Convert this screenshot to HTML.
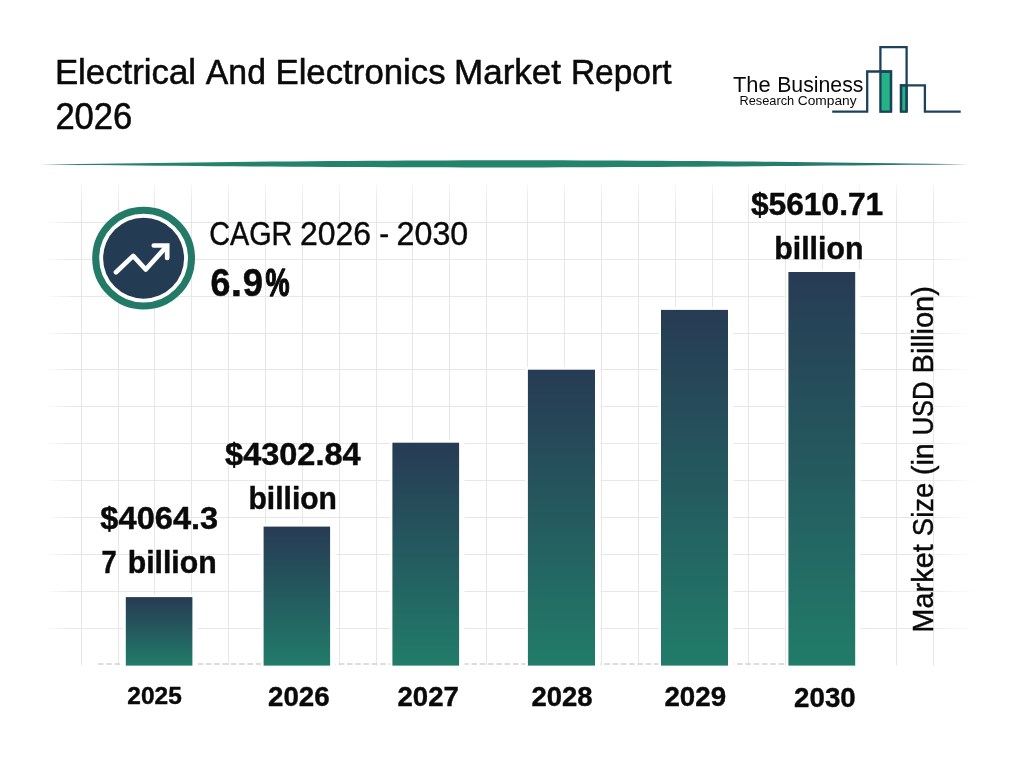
<!DOCTYPE html>
<html lang="en"><head><meta charset="utf-8"><title>Electrical And Electronics Market Report 2026</title>
<style>
html,body{margin:0;padding:0;background:#fff;}
body{width:1024px;height:768px;overflow:hidden;position:relative;font-family:"Liberation Sans",sans-serif;}
svg{position:absolute;left:0;top:0;display:block;}
text,tspan{font-family:"Liberation Sans",sans-serif;fill:#0a0a0a;stroke:#0a0a0a;stroke-width:0.45px;stroke-linejoin:round;}
.b{font-weight:700;}
.s0{stroke:none;}
.s4{stroke-width:0.4px;}
.s5{stroke-width:0.55px;}
.s12{stroke-width:1.3px;}
</style></head><body>
<svg width="1024" height="768" viewBox="0 0 1024 768">
<defs>
<linearGradient id="bar" x1="0" y1="0" x2="0" y2="1"><stop offset="0" stop-color="#273b54"/><stop offset="0.5" stop-color="#245a5f"/><stop offset="1" stop-color="#217c69"/></linearGradient>
<linearGradient id="div" x1="40" y1="0" x2="968" y2="0" gradientUnits="userSpaceOnUse"><stop offset="0" stop-color="#2f7f74"/><stop offset="0.25" stop-color="#23826b"/><stop offset="0.65" stop-color="#23846b"/><stop offset="1" stop-color="#2c6f74"/></linearGradient>
<linearGradient id="hfade" x1="44" y1="0" x2="975" y2="0" gradientUnits="userSpaceOnUse"><stop offset="0" stop-color="#e7e7e7" stop-opacity="0"/><stop offset="0.03" stop-color="#e7e7e7" stop-opacity="1"/><stop offset="0.95" stop-color="#e7e7e7" stop-opacity="1"/><stop offset="1" stop-color="#e7e7e7" stop-opacity="0"/></linearGradient>
<linearGradient id="vfade" x1="0" y1="184" x2="0" y2="666" gradientUnits="userSpaceOnUse"><stop offset="0" stop-color="#e7e7e7" stop-opacity="0.3"/><stop offset="0.04" stop-color="#e7e7e7" stop-opacity="1"/><stop offset="1" stop-color="#e7e7e7" stop-opacity="1"/></linearGradient>
</defs>
<g id="grid" fill="none" stroke-width="1">
<path d="M81.5 184V665.5" stroke="url(#vfade)"/>
<path d="M118.5 184V665.5" stroke="url(#vfade)"/>
<path d="M154.5 184V665.5" stroke="url(#vfade)"/>
<path d="M191.5 184V665.5" stroke="url(#vfade)"/>
<path d="M228.5 184V665.5" stroke="url(#vfade)"/>
<path d="M265.5 184V665.5" stroke="url(#vfade)"/>
<path d="M302.5 184V665.5" stroke="url(#vfade)"/>
<path d="M339.5 184V665.5" stroke="url(#vfade)"/>
<path d="M376.5 184V665.5" stroke="url(#vfade)"/>
<path d="M412.5 184V665.5" stroke="url(#vfade)"/>
<path d="M449.5 184V665.5" stroke="url(#vfade)"/>
<path d="M486.5 184V665.5" stroke="url(#vfade)"/>
<path d="M527.5 184V665.5" stroke="url(#vfade)"/>
<path d="M564.5 184V665.5" stroke="url(#vfade)"/>
<path d="M601.5 184V665.5" stroke="url(#vfade)"/>
<path d="M638.5 184V665.5" stroke="url(#vfade)"/>
<path d="M675.5 184V665.5" stroke="url(#vfade)"/>
<path d="M712.5 184V665.5" stroke="url(#vfade)"/>
<path d="M748.5 184V665.5" stroke="url(#vfade)"/>
<path d="M785.5 184V665.5" stroke="url(#vfade)"/>
<path d="M822.5 184V665.5" stroke="url(#vfade)"/>
<path d="M859.5 184V665.5" stroke="url(#vfade)"/>
<path d="M896.5 184V665.5" stroke="url(#vfade)"/>
<path d="M933.5 184V665.5" stroke="url(#vfade)"/>
<path d="M44 222.5H975" stroke="url(#hfade)"/>
<path d="M44 259.5H975" stroke="url(#hfade)"/>
<path d="M44 296.5H975" stroke="url(#hfade)"/>
<path d="M44 333.5H975" stroke="url(#hfade)"/>
<path d="M44 369.5H975" stroke="url(#hfade)"/>
<path d="M44 406.5H975" stroke="url(#hfade)"/>
<path d="M44 443.5H975" stroke="url(#hfade)"/>
<path d="M44 480.5H975" stroke="url(#hfade)"/>
<path d="M44 517.5H975" stroke="url(#hfade)"/>
<path d="M44 554.5H975" stroke="url(#hfade)"/>
<path d="M44 591.5H975" stroke="url(#hfade)"/>
<path d="M44 628.5H975" stroke="url(#hfade)"/>
</g>
<path d="M98 664H789" stroke="#d2d2d4" stroke-width="1.3" stroke-dasharray="5.5 2.8" fill="none"/>
<path d="M40.0 164.50 L59.3 164.21 L78.7 163.93 L98.0 163.65 L117.3 163.39 L136.7 163.13 L156.0 162.88 L175.3 162.64 L194.7 162.41 L214.0 162.19 L233.3 161.97 L252.7 161.77 L272.0 161.58 L291.3 161.40 L310.7 161.23 L330.0 161.07 L349.3 160.92 L368.7 160.79 L388.0 160.67 L407.3 160.56 L426.7 160.46 L446.0 160.38 L465.3 160.32 L484.7 160.27 L504.0 160.25 L523.3 160.26 L542.7 160.29 L562.0 160.35 L581.3 160.41 L600.7 160.50 L620.0 160.59 L639.3 160.70 L658.7 160.82 L678.0 160.96 L697.3 161.10 L716.7 161.26 L736.0 161.43 L755.3 161.61 L774.7 161.80 L794.0 162.00 L813.3 162.21 L832.7 162.43 L852.0 162.65 L871.3 162.89 L890.7 163.14 L910.0 163.39 L929.3 163.65 L948.7 163.92 L968.0 164.20 L968.0 164.20 L948.7 164.42 L929.3 164.64 L910.0 164.85 L890.7 165.06 L871.3 165.25 L852.0 165.44 L832.7 165.62 L813.3 165.79 L794.0 165.96 L774.7 166.12 L755.3 166.27 L736.0 166.41 L716.7 166.55 L697.3 166.68 L678.0 166.80 L658.7 166.91 L639.3 167.01 L620.0 167.11 L600.7 167.20 L581.3 167.27 L562.0 167.34 L542.7 167.39 L523.3 167.43 L504.0 167.45 L484.7 167.44 L465.3 167.41 L446.0 167.37 L426.7 167.32 L407.3 167.26 L388.0 167.18 L368.7 167.10 L349.3 167.01 L330.0 166.91 L310.7 166.80 L291.3 166.69 L272.0 166.56 L252.7 166.43 L233.3 166.29 L214.0 166.15 L194.7 165.99 L175.3 165.83 L156.0 165.66 L136.7 165.49 L117.3 165.31 L98.0 165.11 L78.7 164.92 L59.3 164.71 L40.0 164.50Z" fill="url(#div)"/>
<g id="bars">
<rect x="123.3" y="594.6" width="74.6" height="71.0" fill="#fff"/>
<rect x="261.1" y="524.1" width="74.5" height="141.5" fill="#fff"/>
<rect x="389.9" y="440.2" width="74.7" height="225.4" fill="#fff"/>
<rect x="525.4" y="367.2" width="75.1" height="298.4" fill="#fff"/>
<rect x="658.5" y="307.4" width="75.0" height="358.2" fill="#fff"/>
<rect x="785.9" y="269.5" width="74.8" height="396.1" fill="#fff"/>
<rect x="125.8" y="597.1" width="66.6" height="68.5" fill="url(#bar)"/>
<rect x="263.6" y="526.6" width="66.5" height="139.0" fill="url(#bar)"/>
<rect x="392.4" y="442.7" width="66.7" height="222.9" fill="url(#bar)"/>
<rect x="527.9" y="369.7" width="67.1" height="295.9" fill="url(#bar)"/>
<rect x="661.0" y="309.9" width="67.0" height="355.7" fill="url(#bar)"/>
<rect x="788.4" y="272.0" width="66.8" height="393.6" fill="url(#bar)"/>
</g>
<g id="icon">
<circle cx="143.6" cy="258.2" r="47.9" fill="#fff" stroke="#237b67" stroke-width="7"/>
<circle cx="143.6" cy="258.2" r="40.5" fill="#243b54"/>
<path d="M116 272.2L133.2 255.9L145.7 269.5L166.6 246.4" fill="none" stroke="#fff" stroke-width="4.7" stroke-linecap="round" stroke-linejoin="round"/>
<path d="M153.8 245.5H167.2V258" fill="none" stroke="#fff" stroke-width="4.7" stroke-linecap="round" stroke-linejoin="miter"/>
</g>
<g id="logo" fill="none" stroke="#1c4259" stroke-width="2.3" stroke-linejoin="miter">
<rect x="880.4" y="71.5" width="10.6" height="40.2" fill="#22b486"/>
<rect x="901.0" y="85.3" width="5.6" height="26.4" fill="#22b486"/>
<path d="M832.2 111.7H867.2V71.5H891V111.7"/>
<path d="M880.4 71.5V47.2H906.6V111.7"/>
<path d="M901.0 111.7V85.3H924.9V111.7H960.7"/>
</g>
<text><tspan id="t1a" class="s5" x="54.9" y="83.6" font-size="34.9" textLength="141.17" lengthAdjust="spacingAndGlyphs">Electrical</tspan> <tspan id="t1b" class="s5" x="205.84" y="83.6" font-size="34.9" textLength="60.1" lengthAdjust="spacingAndGlyphs">And</tspan> <tspan id="t1c" class="s5" x="275.43" y="83.6" font-size="34.9" textLength="170.2" lengthAdjust="spacingAndGlyphs">Electronics</tspan> <tspan id="t1d" class="s5" x="454.08" y="83.6" font-size="34.9" textLength="106.98" lengthAdjust="spacingAndGlyphs">Market</tspan> <tspan id="t1e" class="s5" x="570.92" y="83.6" font-size="34.9" textLength="100.58" lengthAdjust="spacingAndGlyphs">Report</tspan></text>
<text><tspan id="t2" class="s5" x="55.39" y="128.7" font-size="36.2" textLength="76.9" lengthAdjust="spacingAndGlyphs">2026</tspan></text>
<text><tspan id="l1a" class="s0" x="732.98" y="92.3" font-size="22" textLength="37.63" lengthAdjust="spacingAndGlyphs">The</tspan> <tspan id="l1b" class="s0" x="777.2" y="92.3" font-size="22" textLength="86.25" lengthAdjust="spacingAndGlyphs">Business</tspan></text>
<text><tspan id="l2a" class="s0" x="739.47" y="104.9" font-size="12.1" textLength="54.74" lengthAdjust="spacingAndGlyphs">Research</tspan> <tspan id="l2b" class="s0" x="797.74" y="104.9" font-size="12.1" textLength="58.91" lengthAdjust="spacingAndGlyphs">Company</tspan></text>
<text><tspan id="c1a" class="s4" x="209.19" y="244.9" font-size="33" textLength="83.2" lengthAdjust="spacingAndGlyphs">CAGR</tspan> <tspan id="c1b" class="s4" x="300.01" y="244.9" font-size="33" textLength="71.12" lengthAdjust="spacingAndGlyphs">2026</tspan> <tspan id="c1c" class="s4" x="379.26" y="244.9" font-size="33" textLength="9.95" lengthAdjust="spacingAndGlyphs">-</tspan> <tspan id="c1d" class="s4" x="396.62" y="244.9" font-size="33" textLength="71.66" lengthAdjust="spacingAndGlyphs">2030</tspan></text>
<text><tspan id="c2a" class="b" x="210.43" y="295.7" font-size="38" textLength="19.93" lengthAdjust="spacingAndGlyphs">6</tspan><tspan id="c2b" class="b" x="230.78" y="295.7" font-size="38" textLength="11.31" lengthAdjust="spacingAndGlyphs">.</tspan><tspan id="c2c" class="b" x="242.74" y="295.7" font-size="38" textLength="20.3" lengthAdjust="spacingAndGlyphs">9</tspan><tspan id="c2d" class="b s12" x="265.59" y="295.7" font-size="38" textLength="24.06" lengthAdjust="spacingAndGlyphs">%</tspan></text>
<text><tspan id="v1a" class="b" x="100.39" y="528.7" font-size="31.3" textLength="117.82" lengthAdjust="spacingAndGlyphs">$4064.3</tspan> <tspan id="v1b" class="b" x="101.61" y="572.5" font-size="31.3" textLength="15.18" lengthAdjust="spacingAndGlyphs">7</tspan> <tspan id="v1c" class="b" x="127.71" y="572.5" font-size="31.3" textLength="88.95" lengthAdjust="spacingAndGlyphs">billion</tspan></text>
<text><tspan id="v2a" class="b" x="225.05" y="464.7" font-size="31.3" textLength="135.6" lengthAdjust="spacingAndGlyphs">$4302.84</tspan> <tspan id="v2b" class="b" x="248.5" y="508.6" font-size="31.3" textLength="88.42" lengthAdjust="spacingAndGlyphs">billion</tspan></text>
<text><tspan id="v6a" class="b" x="750.94" y="214.7" font-size="31.3" textLength="132.31" lengthAdjust="spacingAndGlyphs">$5610.71</tspan> <tspan id="v6b" class="b" x="774.37" y="258.6" font-size="31.3" textLength="88.99" lengthAdjust="spacingAndGlyphs">billion</tspan></text>
<text><tspan id="x1" class="b s4" x="127.38" y="703.8" font-size="23.6" textLength="54.47" lengthAdjust="spacingAndGlyphs">2025</tspan></text>
<text><tspan id="x2" class="b s4" x="268.02" y="706.3" font-size="27.8" textLength="61.66" lengthAdjust="spacingAndGlyphs">2026</tspan></text>
<text><tspan id="x3" class="b s4" x="397.53" y="705.9" font-size="27.8" textLength="61.43" lengthAdjust="spacingAndGlyphs">2027</tspan></text>
<text><tspan id="x4" class="b s4" x="531.53" y="705.9" font-size="27.8" textLength="61.14" lengthAdjust="spacingAndGlyphs">2028</tspan></text>
<text><tspan id="x5" class="b s4" x="664.4" y="705.9" font-size="27.8" textLength="61.73" lengthAdjust="spacingAndGlyphs">2029</tspan></text>
<text><tspan id="x6" class="b s4" x="794.11" y="707.1" font-size="27.8" textLength="61.67" lengthAdjust="spacingAndGlyphs">2030</tspan></text>
<text transform="translate(932.9 0) rotate(-90)"><tspan id="y1" x="-632.71" y="0" font-size="30.3" textLength="88.63" lengthAdjust="spacingAndGlyphs">Market</tspan> <tspan id="y2" x="-536.16" y="0" font-size="30.3" textLength="53.43" lengthAdjust="spacingAndGlyphs">Size</tspan> <tspan id="y3" x="-475.06" y="0" font-size="30.3" textLength="31.84" lengthAdjust="spacingAndGlyphs">(in</tspan> <tspan id="y4" x="-435.36" y="0" font-size="30.3" textLength="53.86" lengthAdjust="spacingAndGlyphs">USD</tspan> <tspan id="y5" x="-373.44" y="0" font-size="30.3" textLength="87.48" lengthAdjust="spacingAndGlyphs">Billion)</tspan></text>
</svg></body></html>
